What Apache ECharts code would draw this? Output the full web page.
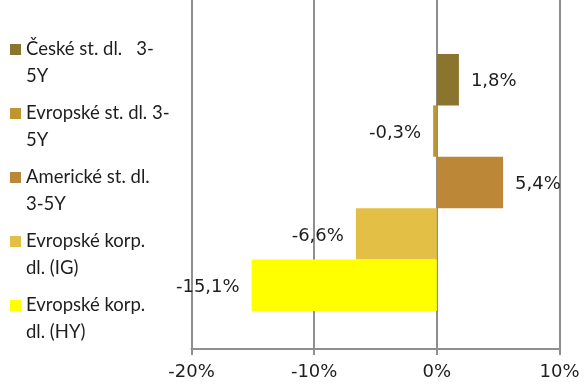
<!DOCTYPE html>
<html>
<head>
<meta charset="utf-8">
<script src="https://cdn.jsdelivr.net/npm/echarts@6/dist/echarts.min.js"></script>
<style>html,body{margin:0;padding:0;background:#fff}#c{width:584px;height:388px}</style>
</head>
<body>
<div id="c"></div>
<script>
const categories = ['České st. dl. 3-5Y', 'Evropské st. dl. 3-5Y', 'Americké st. dl. 3-5Y', 'Evropské korp. dl. (IG)', 'Evropské korp. dl. (HY)'];
const legendLabels = ['České st. dl.   3-\n5Y', 'Evropské st. dl. 3-\n5Y', 'Americké st. dl.\n3-5Y', 'Evropské korp.\ndl. (IG)', 'Evropské korp.\ndl. (HY)'];
const values = [1.8, -0.3, 5.4, -6.6, -15.1];
const colors = ['#8B742E', '#BF952F', '#BC8838', '#E3BF45', '#FFFF00'];
const xMin = -20, xMax = 10, xStep = 10;

const FONT = 'Lato';
const NUMFONT = 'DejaVu Sans';
const TXT = '#1e1e1e';
const GRID_COLOR = '#8f8f8f';

const chart = echarts.init(document.getElementById('c'), null, {renderer: 'canvas'});
const fmtPct = v => v.toFixed(1).replace('.', ',') + '%';

const series = categories.map((name, i) => ({
  name: name,
  type: 'bar',
  xAxisIndex: 1,
  yAxisIndex: 1,
  data: [values[i]],
  barGap: '0%',
  barCategoryGap: '22.8%',
  itemStyle: {color: colors[i]},
  label: {
    show: true,
    position: values[i] >= 0 ? 'right' : 'left',
    distance: 12,
    offset: [0, 2],
    formatter: p => fmtPct(p.value),
    fontFamily: NUMFONT,
    fontSize: 18,
    color: TXT
  }
}));

chart.setOption({
  animation: false,
  backgroundColor: '#ffffff',
  legend: {
    orient: 'vertical',
    left: 10,
    top: 36,
    padding: 0,
    itemGap: 10,
    itemWidth: 11,
    itemHeight: 38,
    icon: 'path://M0,0L11,0L11,11L0,11Z M0,38L11,38L0,38Z',
    data: categories,
    formatter: name => legendLabels[categories.indexOf(name)],
    textStyle: {fontFamily: FONT, fontSize: 18.5, lineHeight: 27, color: TXT, padding: [0, 0, 0, 0]},
    selectedMode: false
  },
  grid: [
    {left: 191.5, right: 24.5, top: 0, bottom: 39},
    {left: 191.5, right: 24.5, top: 16, bottom: 39}
  ],
  xAxis: [
    {
      type: 'value', gridIndex: 0, min: xMin, max: xMax, interval: xStep,
      axisLine: {show: true, lineStyle: {color: GRID_COLOR, width: 2}},
      axisTick: {show: true, length: 6, lineStyle: {color: GRID_COLOR, width: 2}},
      splitLine: {show: true, lineStyle: {color: GRID_COLOR, width: 2}},
      axisLabel: {formatter: v => v + '%', fontFamily: NUMFONT, fontSize: 18, color: TXT, margin: 14}
    },
    {
      type: 'value', gridIndex: 1, min: xMin, max: xMax, interval: xStep, show: false
    }
  ],
  yAxis: [
    {type: 'value', gridIndex: 0, show: false, min: 0, max: 1},
    {type: 'category', gridIndex: 1, data: [''], inverse: true, show: false}
  ],
  series: series
});
</script>
</body>
</html>
